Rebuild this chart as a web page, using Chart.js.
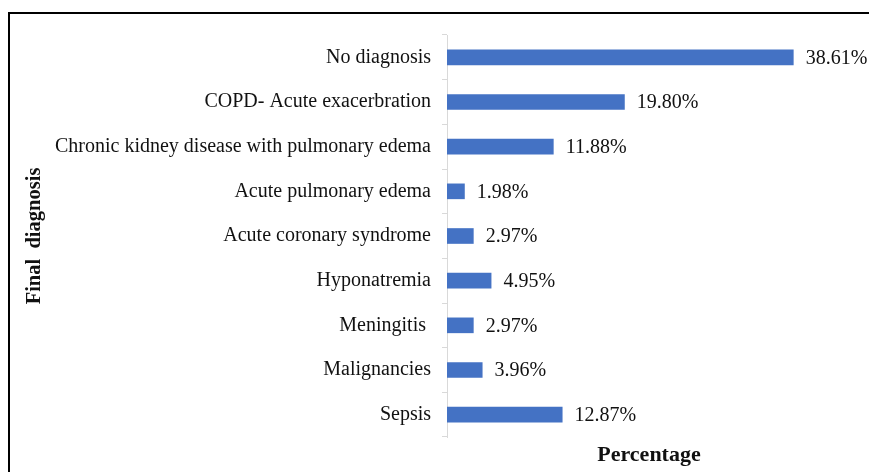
<!DOCTYPE html>
<html>
<head>
<meta charset="utf-8">
<style>
  html, body { margin: 0; padding: 0; background: #fff; }
  #wrap { position: relative; width: 869px; height: 472px; overflow: hidden; }
  #frame { position: absolute; left: 8px; top: 12px; width: 900px; height: 500px; border: 2px solid #000; box-sizing: border-box; }
  canvas { position: absolute; left: 0; top: 0; }
</style>
<script src="https://cdn.jsdelivr.net/npm/chart.js@4"></script>
</head>
<body>
<div id="wrap">
  <div id="frame"></div>
  <canvas id="chart_one" width="869" height="472"></canvas>
</div>
<script>
const diagnoses = [
  'No diagnosis',
  'COPD- Acute exacerbration',
  'Chronic kidney disease with pulmonary edema',
  'Acute pulmonary edema',
  'Acute coronary syndrome',
  'Hyponatremia',
  'Meningitis ',
  'Malignancies',
  'Sepsis'
];
const percentages = [38.61, 19.80, 11.88, 1.98, 2.97, 4.95, 2.97, 3.96, 12.87];

const ctx = document.getElementById('chart_one');
const serif = '"Liberation Serif", "Times New Roman", serif';

// draws the "xx.xx%" text after each bar
const valueLabels = {
  id: 'valueLabels',
  afterDatasetsDraw(chart) {
    const c = chart.ctx;
    const meta = chart.getDatasetMeta(0);
    c.save();
    c.font = '20px ' + serif;
    c.fillStyle = '#111';
    c.textAlign = 'left';
    c.textBaseline = 'middle';
    meta.data.forEach((bar, i) => {
      c.fillText(percentages[i].toFixed(2) + '%', bar.x + 12, bar.y + 1);
    });
    c.restore();
  }
};

new Chart(ctx, {
  type: 'bar',
  data: {
    labels: diagnoses,
    datasets: [{
      label: 'Percentage',
      data: percentages,
      backgroundColor: '#4472C4',
      borderWidth: 0,
      barPercentage: 0.7,
      categoryPercentage: 0.5
    }]
  },
  options: {
    indexAxis: 'y',
    responsive: false,
    animation: false,
    layout: { padding: { top: 35, right: 18, bottom: 3, left: 20 } },
    plugins: {
      legend: { display: false },
      tooltip: { enabled: false }
    },
    scales: {
      x: {
        min: 0,
        max: 45,
        grid: { display: false },
        border: { display: false },
        ticks: { display: false },
        title: {
          display: true,
          text: 'Percentage',
          color: '#111',
          font: { family: serif, size: 22, weight: 'bold' },
          padding: { top: 5, bottom: 0 }
        },
        afterFit(scale) { scale.height = 32; }
      },
      y: {
        grid: { drawOnChartArea: false, tickLength: 5, color: '#d9d9d9' },
        border: { color: '#d9d9d9' },
        ticks: {
          color: '#111',
          padding: 11,
          font: { family: serif, size: 20 }
        },
        title: {
          display: true,
          text: 'Final  diagnosis',
          color: '#111',
          font: { family: serif, size: 20.5, weight: 'bold' },
          padding: { top: 2, bottom: 0 }
        },
        afterFit(scale) { scale.width = 447 - 20; }
      }
    }
  },
  plugins: [valueLabels]
});
</script>
</body>
</html>
